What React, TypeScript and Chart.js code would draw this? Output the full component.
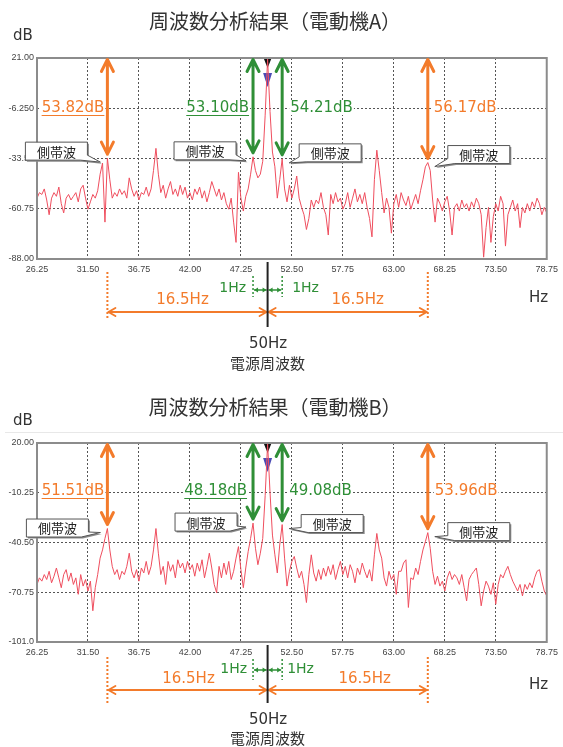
import React, { useEffect, useRef } from "react";
import { Chart, registerables } from "chart.js";

Chart.register(...registerables);

// ---------- data ----------
const FREQ_START = 26.25;
const FREQ_STEP = 0.25;
const X_TICKS = [26.25, 31.5, 36.75, 42, 47.25, 52.5, 57.75, 63, 68.25, 73.5, 78.75];
const Y_TICKS_A = [-88, -60.75, -33.5, -6.25, 21];
const Y_TICKS_B = [-101, -70.75, -40.5, -10.25, 20];
const MAIN_FREQ = 50;
const SIDEBAND_FREQS = [33.5, 48.5, 51.5, 66.5];
const DB_LABELS_A = ["53.82dB", "53.10dB", "54.21dB", "56.17dB"];
const DB_LABELS_B = ["51.51dB", "48.18dB", "49.08dB", "53.96dB"];
const SPAN_LABEL = "16.5Hz";
const NEAR_LABEL = "1Hz";
const TITLE_A = "周波数分析結果（電動機A）";
const TITLE_B = "周波数分析結果（電動機B）";

const SPECTRUM_A = [
  -55, -52, -53, -50, -56, -64, -55, -52, -54, -49,
  -58, -63, -55, -53, -56, -54, -52, -57, -50, -48,
  -55, -61, -57, -53, -55, -51, -42, -36, -68, -33.3,
  -45, -55, -52, -54, -50, -53, -51, -55, -44, -50,
  -54, -51, -56, -52, -53, -49, -54, -50, -40, -28,
  -42, -52, -48, -55, -50, -46, -53, -50, -54, -48,
  -53, -49, -55, -52, -56, -50, -53, -49, -55, -51,
  -57, -52, -46, -50, -54, -50, -56, -52, -58, -61,
  -55, -68, -79, -41, -55, -62, -54, -50, -42, -32.6,
  -40, -44, -42, -35, -10, 20.5, -8, -30, -38, -55,
  -45, -33.7, -50, -57, -48, -55, -50, -43, -55, -60,
  -64, -72, -66, -56, -60, -56, -58, -52, -60, -64,
  -75, -53, -58, -52, -57, -55, -61, -58, -52, -60,
  -55, -50, -57, -53, -58, -52, -60, -66, -76, -45,
  -29, -40, -52, -63, -55, -60, -74, -58, -53, -60,
  -52, -56, -59, -54, -61, -57, -53, -58, -51, -45,
  -38, -35.7, -40, -56, -68, -55, -58, -62, -57, -54,
  -62, -75, -60, -58, -62, -56, -60, -58, -62, -57,
  -60, -55, -58, -64, -87, -71, -60, -79, -65, -58,
  -62, -54, -58, -81, -64, -60, -56, -62, -58, -71,
  -60, -63, -58, -62, -57, -60, -55, -58, -64, -60,
  -63,
];

const SPECTRUM_B = [
  -66, -62, -64, -60, -63, -58, -65, -61, -56, -62,
  -68, -60, -57, -64, -59, -66, -62, -72, -60, -67,
  -63, -70, -64, -82, -68, -60, -50, -45, -38, -32,
  -45, -55, -60, -57, -63, -58, -60, -55, -47, -58,
  -62, -57, -64, -56, -59, -52, -60, -55, -45, -32,
  -47, -60, -55, -66, -52, -58, -54, -62, -51, -56,
  -53, -59, -52, -57, -54, -61, -53, -58, -51, -62,
  -55, -47, -56, -66, -71, -55, -62, -53, -60, -52,
  -63, -58, -50, -43, -57, -68, -56, -46, -38, -28.7,
  -44, -54, -47, -38, -12, 19.5, -10, -36, -48, -59,
  -42, -29.6, -50, -67, -58, -52, -49, -56, -62, -58,
  -66, -77, -60, -48, -59, -64, -57, -63, -56, -61,
  -55, -60, -54, -63, -57, -52, -60, -55, -62, -54,
  -58, -65, -56, -60, -53, -58, -62, -57, -64, -48,
  -35, -45, -50, -62, -67, -58, -63, -60, -72, -58,
  -58, -53, -51, -80, -62, -63, -56, -60, -52, -45,
  -40, -34.5, -44, -58, -66, -61, -67, -64, -70, -62,
  -58, -63, -60, -62, -66, -60, -68, -76, -63, -60,
  -58, -56, -66, -79, -70, -64, -67, -72, -65, -78,
  -66, -60, -62, -58, -55, -60, -64, -67, -70, -66,
  -73, -66, -69, -65, -68, -62, -58, -57, -64, -70,
  -73,
];

// ---------- styles ----------
const ORANGE = "#f37b2b";
const GREEN = "#2f8f37";
const LINE_RED = "#ef4e5e";
const LATIN = '"DejaVu Sans", sans-serif';
const CJK = '"Noto Sans CJK JP", sans-serif';

type Callout = { gap: number; top: number };
type Cfg = {
  title: string;
  values: number[];
  yTicks: number[];
  dbLabels: string[];
  canvasTop: number;
  canvasHeight: number;
  plotTop: number;
  plotBottom: number;
  plotRight: number;
  labelDx: number[];
  labelDy: number;
  callouts: Callout[];
  blackEnd: number;
  dotTop: number;
  dotBot: number;
  spanY: number;
  spanTextY: number;
  spanTextDx: [number, number];
  greenY: number;
  greenTextY: number;
  greenTextDx: [number, number];
  mainTextY: number;
  subTextY: number;
  hzY: number;
  titleDy: number;
  separator: boolean;
};

const CFG_A: Cfg = {
  title: TITLE_A,
  values: SPECTRUM_A,
  yTicks: Y_TICKS_A,
  dbLabels: DB_LABELS_A,
  canvasTop: 0,
  canvasHeight: 375,
  plotTop: 58,
  plotBottom: 259,
  plotRight: 550,
  labelDx: [3, 4, 8, 6],
  labelDy: 50,
  callouts: [
    { gap: 13, top: -20 },
    { gap: 10, top: -19 },
    { gap: 10, top: -19 },
    { gap: 13, top: -21 },
  ],
  blackEnd: 68,
  dotTop: 13,
  dotBot: 61,
  spanY: 53,
  spanTextY: 41,
  spanTextDx: [-5, 10],
  greenY: 31,
  greenTextY: 29,
  greenTextDx: [-7, 10],
  mainTextY: 85,
  subTextY: 104,
  hzY: 39,
  titleDy: -37,
  separator: false,
};

const CFG_B: Cfg = {
  title: TITLE_B,
  values: SPECTRUM_B,
  yTicks: Y_TICKS_B,
  dbLabels: DB_LABELS_B,
  canvasTop: 375,
  canvasHeight: 372,
  plotTop: 68,
  plotBottom: 267,
  plotRight: 553,
  labelDx: [3, 6, 7, 7],
  labelDy: 48,
  callouts: [
    { gap: 12, top: -13.5 },
    { gap: 9, top: -14 },
    { gap: 12, top: -14 },
    { gap: 13, top: -14 },
  ],
  blackEnd: 61,
  dotTop: 15,
  dotBot: 62,
  spanY: 48,
  spanTextY: 37,
  spanTextDx: [1, 17],
  greenY: 28,
  greenTextY: 27,
  greenTextDx: [-6, 5],
  mainTextY: 78,
  subTextY: 96,
  hzY: 43,
  titleDy: -36,
  separator: true,
};

// ---------- drawing helpers ----------
function vArrow(ctx: CanvasRenderingContext2D, x: number, y1: number, y2: number, color: string) {
  const head = 12;
  const hw = 6;
  ctx.save();
  ctx.strokeStyle = color;
  ctx.lineWidth = 3;
  ctx.lineCap = "round";
  ctx.lineJoin = "round";
  ctx.beginPath();
  ctx.moveTo(x, y1);
  ctx.lineTo(x, y2);
  ctx.moveTo(x - hw, y1 + head);
  ctx.lineTo(x, y1);
  ctx.lineTo(x + hw, y1 + head);
  ctx.moveTo(x - hw, y2 - head);
  ctx.lineTo(x, y2);
  ctx.lineTo(x + hw, y2 - head);
  ctx.stroke();
  ctx.restore();
}

function hArrowOpen(ctx: CanvasRenderingContext2D, x1: number, x2: number, y: number, color: string) {
  const head = 7;
  const hw = 4;
  ctx.save();
  ctx.strokeStyle = color;
  ctx.lineWidth = 2;
  ctx.lineCap = "round";
  ctx.lineJoin = "round";
  ctx.beginPath();
  ctx.moveTo(x1, y);
  ctx.lineTo(x2, y);
  ctx.moveTo(x1 + head, y - hw);
  ctx.lineTo(x1, y);
  ctx.lineTo(x1 + head, y + hw);
  ctx.moveTo(x2 - head, y - hw);
  ctx.lineTo(x2, y);
  ctx.lineTo(x2 - head, y + hw);
  ctx.stroke();
  ctx.restore();
}

function hArrowSolid(ctx: CanvasRenderingContext2D, x1: number, x2: number, y: number, color: string) {
  const head = 4;
  const hw = 2.5;
  ctx.save();
  ctx.strokeStyle = color;
  ctx.fillStyle = color;
  ctx.lineWidth = 1.5;
  ctx.beginPath();
  ctx.moveTo(x1, y);
  ctx.lineTo(x2, y);
  ctx.stroke();
  ctx.beginPath();
  ctx.moveTo(x1, y);
  ctx.lineTo(x1 + head, y - hw);
  ctx.lineTo(x1 + head, y + hw);
  ctx.closePath();
  ctx.moveTo(x2, y);
  ctx.lineTo(x2 - head, y - hw);
  ctx.lineTo(x2 - head, y + hw);
  ctx.closePath();
  ctx.fill();
  ctx.restore();
}

function vDotted(ctx: CanvasRenderingContext2D, x: number, y1: number, y2: number, color: string, w: number) {
  ctx.save();
  ctx.strokeStyle = color;
  ctx.lineWidth = w;
  ctx.setLineDash([2, 2]);
  ctx.beginPath();
  ctx.moveTo(x, y1);
  ctx.lineTo(x, y2);
  ctx.stroke();
  ctx.restore();
}

function text(
  ctx: CanvasRenderingContext2D,
  s: string,
  x: number,
  y: number,
  font: string,
  color: string,
  align: CanvasTextAlign,
  underline = false,
  backdrop = false
) {
  ctx.save();
  ctx.font = font;
  ctx.textAlign = align;
  ctx.textBaseline = "middle";
  const w = ctx.measureText(s).width;
  const x0 = align === "right" ? x - w : align === "center" ? x - w / 2 : x;
  if (backdrop) {
    ctx.fillStyle = "#ffffff";
    ctx.fillRect(x0 - 1, y - 7, w + 2, 14);
  }
  ctx.fillStyle = color;
  ctx.fillText(s, x, y);
  if (underline) {
    ctx.strokeStyle = color;
    ctx.lineWidth = 1;
    ctx.beginPath();
    ctx.moveTo(x0, y + 7.5);
    ctx.lineTo(x0 + w, y + 7.5);
    ctx.stroke();
  }
  ctx.restore();
}

function calloutPath(
  ctx: CanvasRenderingContext2D,
  left: number,
  top: number,
  w: number,
  h: number,
  tipX: number,
  tipY: number,
  side: "left" | "right"
) {
  const right = left + w;
  const bottom = top + h;
  ctx.beginPath();
  if (side === "left") {
    ctx.moveTo(left, top);
    ctx.lineTo(right, top);
    ctx.lineTo(right, bottom - 5);
    ctx.lineTo(tipX, tipY);
    ctx.lineTo(right - 7, bottom);
    ctx.lineTo(left, bottom);
  } else {
    ctx.moveTo(left, top);
    ctx.lineTo(right, top);
    ctx.lineTo(right, bottom);
    ctx.lineTo(left + 7, bottom);
    ctx.lineTo(tipX, tipY);
    ctx.lineTo(left, bottom - 5);
  }
  ctx.closePath();
}

function drawCallout(
  ctx: CanvasRenderingContext2D,
  px: number,
  py: number,
  side: "left" | "right",
  c: Callout
) {
  const w = 62;
  const h = 18;
  const tipX = px + (side === "left" ? -7 : 7);
  const tipY = py + 4;
  const left = side === "left" ? tipX - c.gap - w : tipX + c.gap;
  const top = tipY + c.top;
  ctx.save();
  ctx.translate(1.5, 1.5);
  calloutPath(ctx, left, top, w, h, tipX, tipY, side);
  ctx.fillStyle = "#8a8a8a";
  ctx.fill();
  ctx.restore();
  ctx.save();
  calloutPath(ctx, left, top, w, h, tipX, tipY, side);
  ctx.fillStyle = "#ffffff";
  ctx.fill();
  ctx.strokeStyle = "#555";
  ctx.lineWidth = 1;
  ctx.stroke();
  ctx.restore();
  text(ctx, "側帯波", left + w / 2, top + h / 2 + 0.5, `13px ${CJK}`, "#222", "center");
}

function makePlugin(cfg: Cfg) {
  const valAt = (f: number) => cfg.values[Math.round((f - FREQ_START) / FREQ_STEP)];
  return {
    id: "spectrumAnno",
    beforeDatasetsDraw(chart: any) {
      const { ctx, chartArea: ca, scales } = chart;
      const xm = scales.x.getPixelForValue(MAIN_FREQ);
      ctx.save();
      ctx.fillStyle = "#111";
      ctx.beginPath();
      ctx.moveTo(xm - 4, ca.top);
      ctx.lineTo(xm + 4, ca.top);
      ctx.lineTo(xm, ca.top + 10);
      ctx.closePath();
      ctx.fill();
      ctx.fillStyle = "#4b4bb5";
      ctx.beginPath();
      ctx.moveTo(xm - 4.5, ca.top + 15);
      ctx.lineTo(xm + 4.5, ca.top + 15);
      ctx.lineTo(xm, ca.top + 29);
      ctx.closePath();
      ctx.fill();
      ctx.restore();
    },
    afterDraw(chart: any) {
      const { ctx, chartArea: ca, scales } = chart;
      const X = (f: number) => scales.x.getPixelForValue(f);
      const Y = (v: number) => scales.y.getPixelForValue(v);

      // plot frame
      ctx.save();
      ctx.strokeStyle = "#8c8c8c";
      ctx.lineWidth = 2;
      ctx.strokeRect(ca.left, ca.top, ca.right - ca.left, ca.bottom - ca.top);
      ctx.restore();

      // separator (chart B)
      if (cfg.separator) {
        ctx.save();
        ctx.strokeStyle = "#e8e8e8";
        ctx.lineWidth = 1;
        ctx.beginPath();
        ctx.moveTo(5, ca.top - 10.5);
        ctx.lineTo(563, ca.top - 10.5);
        ctx.stroke();
        ctx.restore();
      }

      // title and unit labels
      text(ctx, cfg.title, 275, ca.top + cfg.titleDy, `20px ${CJK}`, "#333", "center");
      text(ctx, "dB", 13, ca.top - 22, `15px ${LATIN}`, "#333", "left");
      text(ctx, "Hz", 529, ca.bottom + cfg.hzY, `15px ${LATIN}`, "#333", "left");

      // amplitude arrows, labels, callouts
      SIDEBAND_FREQS.forEach((f, i) => {
        const px = X(f);
        const py = Y(valAt(f));
        const color = i === 0 || i === 3 ? ORANGE : GREEN;
        vArrow(ctx, px, ca.top + 1.5, py - 4, color);
        const leftSide = i < 2;
        const ly = ca.top + cfg.labelDy;
        if (leftSide) {
          text(ctx, cfg.dbLabels[i], px - cfg.labelDx[i], ly, `15px ${LATIN}`, color, "right", true, true);
        } else {
          text(ctx, cfg.dbLabels[i], px + cfg.labelDx[i], ly, `15px ${LATIN}`, color, "left", false, true);
        }
        drawCallout(ctx, px, py, leftSide ? "left" : "right", cfg.callouts[i]);
      });

      // below-axis annotation
      const xm = X(MAIN_FREQ);
      const xl = X(SIDEBAND_FREQS[0]);
      const xr = X(SIDEBAND_FREQS[3]);
      const gl = X(SIDEBAND_FREQS[1]);
      const gr = X(SIDEBAND_FREQS[2]);
      const b = ca.bottom;

      vDotted(ctx, xl, b + cfg.dotTop, b + cfg.dotBot, ORANGE, 2);
      vDotted(ctx, xr, b + cfg.dotTop, b + cfg.dotBot, ORANGE, 2);
      hArrowOpen(ctx, xl + 1, xm - 1, b + cfg.spanY, ORANGE);
      hArrowOpen(ctx, xm + 1, xr - 1, b + cfg.spanY, ORANGE);
      text(ctx, SPAN_LABEL, (xl + xm) / 2 + cfg.spanTextDx[0], b + cfg.spanTextY, `15px ${LATIN}`, ORANGE, "center");
      text(ctx, SPAN_LABEL, (xm + xr) / 2 + cfg.spanTextDx[1], b + cfg.spanTextY, `15px ${LATIN}`, ORANGE, "center");

      vDotted(ctx, gl, b + 17, b + 38, GREEN, 1.5);
      vDotted(ctx, gr, b + 17, b + 38, GREEN, 1.5);
      hArrowSolid(ctx, gl + 1, xm - 1, b + cfg.greenY, GREEN);
      hArrowSolid(ctx, xm + 1, gr - 1, b + cfg.greenY, GREEN);
      text(ctx, NEAR_LABEL, gl + cfg.greenTextDx[0], b + cfg.greenTextY, `14px ${LATIN}`, GREEN, "right");
      text(ctx, NEAR_LABEL, gr + cfg.greenTextDx[1], b + cfg.greenTextY, `14px ${LATIN}`, GREEN, "left");

      ctx.save();
      ctx.strokeStyle = "#222";
      ctx.lineWidth = 2;
      ctx.beginPath();
      ctx.moveTo(xm, b + 3);
      ctx.lineTo(xm, b + cfg.blackEnd);
      ctx.stroke();
      ctx.restore();

      text(ctx, "50Hz", xm + 0.5, b + cfg.mainTextY, `15px ${LATIN}`, "#333", "center");
      text(ctx, "電源周波数", xm, b + cfg.subTextY, `15px ${CJK}`, "#333", "center");
    },
  };
}

function SpectrumChart({ cfg }: { cfg: Cfg }) {
  const ref = useRef<HTMLCanvasElement | null>(null);
  useEffect(() => {
    if (!ref.current) return;
    const points = cfg.values.map((v, i) => ({ x: FREQ_START + i * FREQ_STEP, y: v }));
    const xAxisHeight = cfg.canvasHeight - cfg.plotBottom;
    const chart = new Chart(ref.current, {
      type: "line",
      data: {
        datasets: [
          {
            data: points,
            borderColor: LINE_RED,
            borderWidth: 1,
            pointRadius: 0,
            tension: 0,
            fill: false,
          },
        ],
      },
      options: {
        animation: false,
        responsive: false,
        devicePixelRatio: 1,
        layout: { padding: { top: cfg.plotTop, right: 563 - cfg.plotRight, left: 0, bottom: 0 } },
        plugins: {
          legend: { display: false },
          tooltip: { enabled: false },
          title: { display: false },
        },
        scales: {
          x: {
            type: "linear",
            min: X_TICKS[0],
            max: X_TICKS[X_TICKS.length - 1],
            afterBuildTicks: (s: any) => {
              s.ticks = X_TICKS.map((v) => ({ value: v }));
            },
            afterFit: (s: any) => {
              s.height = xAxisHeight;
            },
            grid: { color: "#555", lineWidth: 1, drawTicks: false },
            border: { display: false, dash: [2, 2] },
            ticks: {
              autoSkip: false,
              maxRotation: 0,
              padding: 5,
              color: "#444",
              font: { family: "Liberation Sans", size: 9 },
              callback: (v: any) => Number(v).toPrecision(4),
            },
          },
          y: {
            type: "linear",
            min: cfg.yTicks[0],
            max: cfg.yTicks[cfg.yTicks.length - 1],
            afterBuildTicks: (s: any) => {
              s.ticks = cfg.yTicks.map((v) => ({ value: v }));
            },
            afterFit: (s: any) => {
              s.width = 37;
            },
            grid: { color: "#555", lineWidth: 1, drawTicks: false },
            border: { display: false, dash: [2, 2] },
            ticks: {
              padding: 3,
              color: "#444",
              font: { family: "Liberation Sans", size: 9 },
              callback: (v: any) => Number(v).toPrecision(4),
            },
          },
        },
      },
      plugins: [makePlugin(cfg)],
    } as any);
    return () => chart.destroy();
  }, [cfg]);
  return (
    <canvas
      ref={ref}
      width={563}
      height={cfg.canvasHeight}
      style={{
        position: "absolute",
        left: 0,
        top: cfg.canvasTop,
        width: 563,
        height: cfg.canvasHeight,
        display: "block",
      }}
    />
  );
}

export default function App() {
  useEffect(() => {
    document.body.style.margin = "0";
    document.body.style.background = "#ffffff";
  }, []);
  return (
    <div style={{ position: "relative", width: 563, height: 747, background: "#fff", overflow: "hidden" }}>
      <SpectrumChart cfg={CFG_A} />
      <SpectrumChart cfg={CFG_B} />
    </div>
  );
}
